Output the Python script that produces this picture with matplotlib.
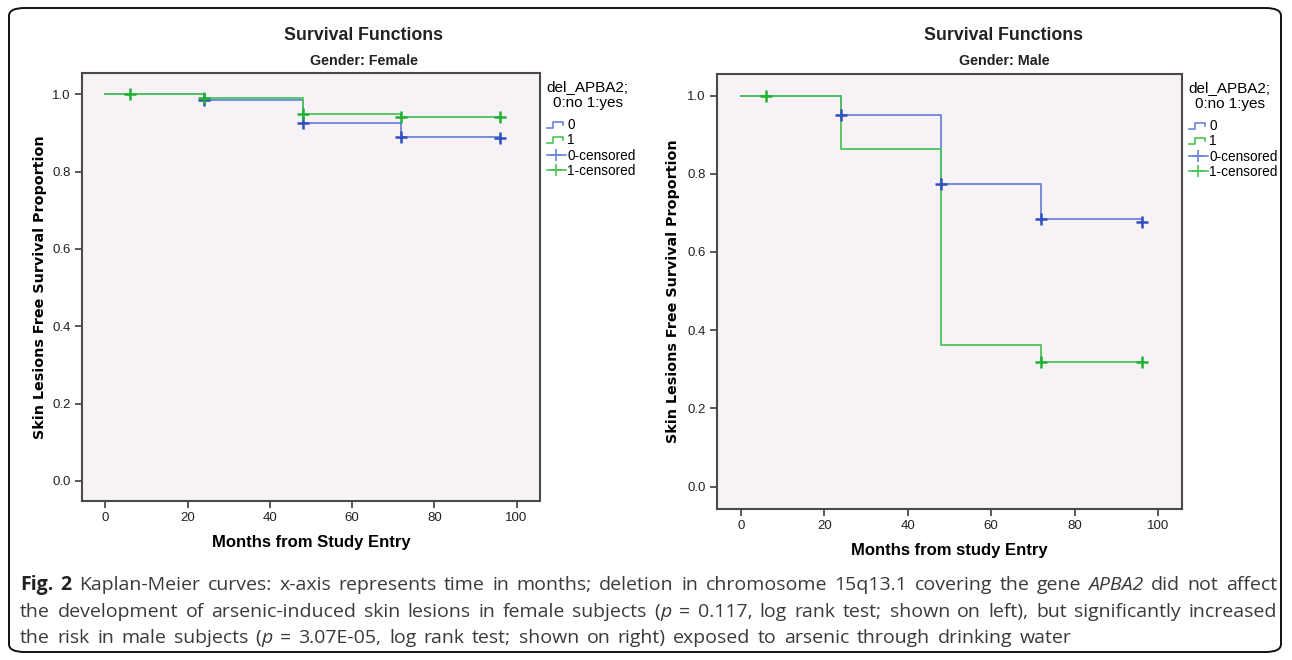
import re
import matplotlib
matplotlib.use("Agg")
import matplotlib.pyplot as plt
from matplotlib.legend_handler import HandlerBase
from matplotlib.lines import Line2D
from matplotlib.patches import FancyBboxPatch
from matplotlib import font_manager

# step times (months)
times = [0, 24, 48, 72, 96]

# Gender: Female
fem_s0 = [1.0, 0.985, 0.925, 0.890, 0.890]
fem_s1 = [1.0, 0.990, 0.950, 0.940, 0.940]
fem_c0_t = [24, 48, 72, 96]
fem_c0_s = [0.985, 0.925, 0.890, 0.888]
fem_c1_t = [6, 24, 48, 72, 96]
fem_c1_s = [1.0, 0.990, 0.950, 0.940, 0.940]

# Gender: Male
male_s0 = [1.0, 0.950, 0.775, 0.685, 0.685]
male_s1 = [1.0, 0.863, 0.363, 0.318, 0.318]
male_c0_t = [24, 48, 72, 96]
male_c0_s = [0.950, 0.775, 0.685, 0.677]
male_c1_t = [6, 72, 96]
male_c1_s = [1.0, 0.318, 0.318]

x_ticks = [0, 20, 40, 60, 80, 100]
y_ticks = [0.0, 0.2, 0.4, 0.6, 0.8, 1.0]
legend_labels = ["0", "1", "0-censored", "1-censored"]

BLUE = "#6a84d8"
BLUE_D = "#2f4fc0"
GREEN = "#4cc45a"
GREEN_D = "#22b032"
BG = "#f6f2f6"
FRAME = "#4a4a4a"

avail = {f.name for f in font_manager.fontManager.ttflist}
NARROW = "Liberation Sans Narrow" if "Liberation Sans Narrow" in avail else "Liberation Sans"

W, H = 1292, 660
fig = plt.figure(figsize=(W / 100, H / 100), dpi=100)


class StepHandler(HandlerBase):
    def create_artists(self, legend, orig_handle, xdescent, ydescent,
                       width, height, fontsize, trans):
        w, h = width, height
        xs = [-xdescent, 0.35 * w, 0.35 * w, 0.85 * w, 0.85 * w]
        ys = [0.1 * h, 0.1 * h, 0.8 * h, 0.8 * h, 0.45 * h]
        ln = Line2D(xs, ys, color=orig_handle.get_color(), lw=1.2, transform=trans)
        return [ln]


def px_rect(l, t, r, b):
    return [l / W, 1 - b / H, (r - l) / W, (b - t) / H]


def km_panel(rect, s0, s1, c0t, c0s, c1t, c1s, ylim_lo, title_x, sub, xlab, ylab_x):
    ax = fig.add_axes(rect)
    ax.set_facecolor(BG)
    ax.step(times, s0, where="post", color=BLUE, lw=1.3)
    ax.step(times, s1, where="post", color=GREEN, lw=1.3)
    ax.plot(c0t, c0s, ls="none", marker="+", ms=9, mew=1.8, color=BLUE_D)
    ax.plot(c1t, c1s, ls="none", marker="+", ms=9, mew=1.8, color=GREEN_D)
    ax.set_xlim(-5.7, 105.7)
    ax.set_ylim(ylim_lo, 1.055)
    ax.set_xticks(x_ticks)
    ax.set_yticks(y_ticks)
    ax.set_xticklabels([str(v) for v in x_ticks])
    ax.set_yticklabels(["%.1f" % v for v in y_ticks])
    ax.tick_params(direction="out", length=5, width=1.3, color=FRAME,
                   labelsize=9.5, labelcolor="#222222", pad=3)
    for lab in ax.get_xticklabels() + ax.get_yticklabels():
        lab.set_fontfamily(NARROW)
    for sp in ax.spines.values():
        sp.set_color(FRAME)
        sp.set_linewidth(1.5)
    ax.set_xlabel(xlab, fontsize=12, fontweight="bold", family=NARROW, labelpad=8)
    fig.text(ylab_x / W, (rect[1] + rect[3] / 2), "Skin Lesions Free Survival Proportion",
             rotation=90, ha="center", va="center", fontsize=10.3, fontweight="bold",
             family="DejaVu Sans")
    fig.text(title_x / W, 1 - 36 / H, "Survival Functions", ha="center", va="center",
             fontsize=12.8, fontweight="bold", family=NARROW, color="#222222")
    fig.text(title_x / W, 1 - 61 / H, sub, ha="center", va="center",
             fontsize=10.3, fontweight="bold", family=NARROW, color="#222222")
    handles = [Line2D([], [], color=BLUE), Line2D([], [], color=GREEN),
               Line2D([], [], color=BLUE, marker="+", ms=9, mew=1.2, lw=1.2),
               Line2D([], [], color=GREEN, marker="+", ms=9, mew=1.2, lw=1.2)]
    leg = ax.legend(handles, legend_labels, loc="upper left", bbox_to_anchor=(1.0, 1.0),
                    frameon=False, title="del_APBA2;\n0:no 1:yes",
                    handler_map={handles[0]: StepHandler(), handles[1]: StepHandler()},
                    handlelength=1.4, handletextpad=0.1, labelspacing=0.08,
                    borderaxespad=0.1, prop={"family": NARROW, "size": 9.8})
    leg.get_title().set_fontfamily(NARROW)
    leg.get_title().set_fontsize(11)
    leg.get_title().set_multialignment("center")
    leg._legend_box.align = "left"
    leg._legend_box.sep = 6
    return ax


km_panel(px_rect(82, 73, 540, 501), fem_s0, fem_s1, fem_c0_t, fem_c0_s,
         fem_c1_t, fem_c1_s, -0.052, 364, "Gender: Female", "Months from Study Entry", 40)
km_panel(px_rect(717, 74, 1182, 509), male_s0, male_s1, male_c0_t, male_c0_s,
         male_c1_t, male_c1_s, -0.057, 1004, "Gender: Male", "Months from study Entry", 673)

# outer rounded box
box = FancyBboxPatch((9 / W, 8 / H), (1281 - 9) / W, (652 - 8) / H,
                     boxstyle="round,pad=0,rounding_size=0.012",
                     transform=fig.transFigure, fill=False, ec="#111111", lw=1.4)
fig.add_artist(box)

# justified caption
caption = [
    "**Fig.** **2** Kaplan-Meier curves: x-axis represents time in months; deletion in chromosome 15q13.1 covering the gene _APBA2_ did not affect",
    "the development of arsenic-induced skin lesions in female subjects (_p_ = 0.117, log rank test; shown on left), but significantly increased",
    "the risk in male subjects (_p_ = 3.07E-05, log rank test; shown on right) exposed to arsenic through drinking water",
]
cap_y = [585, 612, 638]
cap_left, cap_right = 20, 1277
CAP_FS = 14.0
renderer = fig.canvas.get_renderer()


def seg_props(tok):
    if tok.startswith("**"):
        return tok[2:-2], dict(fontweight="bold", color="#222222")
    if tok.startswith("_"):
        return tok[1:-1], dict(fontstyle="italic", color="#3a3a3a")
    return tok, dict(color="#3a3a3a")


def word_segs(word):
    return [seg_props(t) for t in re.split(r"(\*\*.+?\*\*|_.+?_)", word) if t]


def seg_width(txt, props):
    t = fig.text(0, 0, txt, fontsize=CAP_FS, family="Open Sans", **props)
    w = t.get_window_extent(renderer).width
    t.remove()
    return w


lines = []
for line in caption:
    words = [word_segs(w) for w in line.split(" ")]
    widths = [[seg_width(s, p) for s, p in segs] for segs in words]
    total = sum(sum(ws) for ws in widths)
    lines.append((words, widths, (cap_right - cap_left - total) / (len(words) - 1)))
mean_gap = sum(g for _, _, g in lines[:-1]) / (len(lines) - 1)

for i, (words, widths, gap) in enumerate(lines):
    if i == len(lines) - 1:
        gap = mean_gap
    x = cap_left
    for segs, ws in zip(words, widths):
        for (s, p), w in zip(segs, ws):
            fig.text(x / W, 1 - cap_y[i] / H, s, fontsize=CAP_FS, family="Open Sans",
                     va="center", ha="left", **p)
            x += w
        x += gap

fig.savefig("out.png", dpi=100)
